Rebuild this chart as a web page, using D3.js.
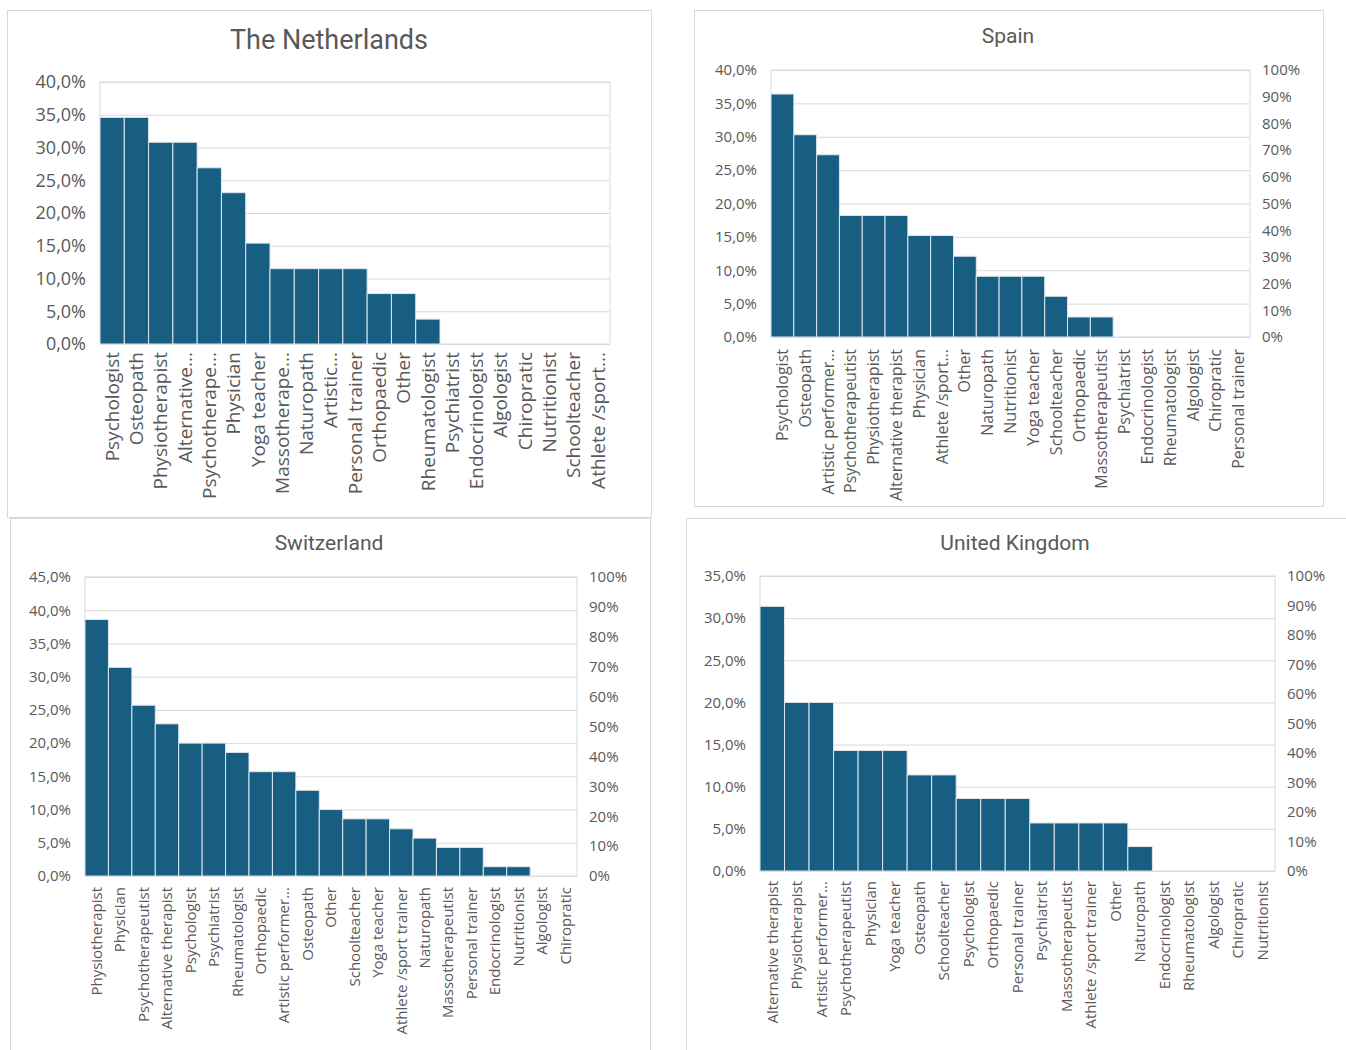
<!DOCTYPE html>
<html>
<head>
<meta charset="utf-8">
<title>Professions by country</title>
<script src="https://d3js.org/d3.v7.min.js"></script>
<style>
  body { margin: 0; background: #fff; }
  text { fill: #595959; }
</style>
</head>
<body>
<svg width="1346" height="1050"></svg>
<script>
// share of respondents (%) per profession, one set per country
const nlCats = ["Psychologist", "Osteopath", "Physiotherapist", "Alternative...", "Psychotherape...", "Physician",
  "Yoga teacher", "Massotherape...", "Naturopath", "Artistic...", "Personal trainer", "Orthopaedic", "Other",
  "Rheumatologist", "Psychiatrist", "Endocrinologist", "Algologist", "Chiropratic", "Nutritionist",
  "Schoolteacher", "Athlete /sport..."]
const nlVals = [34.6, 34.6, 30.8, 30.8, 26.9, 23.1, 15.4, 11.5, 11.5, 11.5, 11.5, 7.7, 7.7, 3.8, 0, 0, 0, 0, 0, 0, 0]

const esCats = ["Psychologist", "Osteopath", "Artistic performer...", "Psychotherapeutist", "Physiotherapist",
  "Alternative therapist", "Physician", "Athlete /sport...", "Other", "Naturopath", "Nutritionist", "Yoga teacher",
  "Schoolteacher", "Orthopaedic", "Massotherapeutist", "Psychiatrist", "Endocrinologist", "Rheumatologist",
  "Algologist", "Chiropratic", "Personal trainer"]
const esVals = [36.4, 30.3, 27.3, 18.2, 18.2, 18.2, 15.2, 15.2, 12.1, 9.1, 9.1, 9.1, 6.1, 3.0, 3.0, 0, 0, 0, 0, 0, 0]

const chCats = ["Physiotherapist", "Physician", "Psychotherapeutist", "Alternative therapist", "Psychologist",
  "Psychiatrist", "Rheumatologist", "Orthopaedic", "Artistic performer...", "Osteopath", "Other", "Schoolteacher",
  "Yoga teacher", "Athlete /sport trainer", "Naturopath", "Massotherapeutist", "Personal trainer",
  "Endocrinologist", "Nutritionist", "Algologist", "Chiropratic"]
const chVals = [38.6, 31.4, 25.7, 22.9, 20.0, 20.0, 18.6, 15.7, 15.7, 12.9, 10.0, 8.6, 8.6, 7.1, 5.7, 4.3, 4.3, 1.4, 1.4, 0, 0]

const ukCats = ["Alternative therapist", "Physiotherapist", "Artistic performer...", "Psychotherapeutist",
  "Physician", "Yoga teacher", "Osteopath", "Schoolteacher", "Psychologist", "Orthopaedic", "Personal trainer",
  "Psychiatrist", "Massotherapeutist", "Athlete /sport trainer", "Other", "Naturopath", "Endocrinologist",
  "Rheumatologist", "Algologist", "Chiropratic", "Nutritionist"]
const ukVals = [31.4, 20.0, 20.0, 14.3, 14.3, 14.3, 11.4, 11.4, 8.6, 8.6, 8.6, 5.7, 5.7, 5.7, 5.7, 2.9, 0, 0, 0, 0, 0]

// left axis maximum per panel (ticks every 5%)
const nlMax = 40, esMax = 40, chMax = 45, ukMax = 35
const rightTicks = [0, 0.1, 0.2, 0.3, 0.4, 0.5, 0.6, 0.7, 0.8, 0.9, 1]

const barColor = "#175e82"
const gridColor = "#d9d9d9"

const panels = [
  { title: "The Netherlands", cats: nlCats, vals: nlVals, yMax: nlMax, right: false,
    box: [7, 10, 651, 517], plot: [100, 82, 610, 344], titleX: 329, titleY: 49, titleSize: 27,
    tickSize: 18, catSize: 19, catGap: 8 },
  { title: "Spain", cats: esCats, vals: esVals, yMax: esMax, right: true,
    box: [694, 10, 1323, 506], plot: [771, 70, 1250, 337], titleX: 1008, titleY: 43, titleSize: 21,
    tickSize: 15, catSize: 16, catGap: 12 },
  { title: "Switzerland", cats: chCats, vals: chVals, yMax: chMax, right: true,
    box: [10, 518, 650, 1070], plot: [85, 577, 577, 876], titleX: 329, titleY: 550, titleSize: 21,
    tickSize: 15, catSize: 15, catGap: 11 },
  { title: "United Kingdom", cats: ukCats, vals: ukVals, yMax: ukMax, right: true,
    box: [686, 518, 1360, 1070], plot: [760, 576, 1275, 871], titleX: 1015, titleY: 550, titleSize: 21,
    tickSize: 15, catSize: 15, catGap: 10 }
]

const svg = d3.select("svg")
const pctFmt = d => d.toFixed(1).replace(".", ",") + "%"

panels.forEach(p => {
  const [bx0, by0, bx1, by1] = p.box
  const [x0, y0, x1, y1] = p.plot
  const w = x1 - x0, h = y1 - y0

  // chart frame
  svg.append("rect")
    .attr("x", bx0 + 0.5).attr("y", by0 + 0.5)
    .attr("width", bx1 - bx0).attr("height", by1 - by0)
    .attr("fill", "#fff").attr("stroke", gridColor)

  svg.append("text")
    .attr("x", p.titleX)
    .attr("y", p.titleY)
    .attr("text-anchor", "middle")
    .style("font-family", "Roboto, 'Noto Sans', sans-serif")
    .style("font-size", p.titleSize + "px")
    .text(p.title)

  const g = svg.append("g").attr("transform", `translate(${x0},${y0})`)

  const xScale = d3.scaleBand().domain(p.cats).range([0, w]).padding(0)
  const yScale = d3.scaleLinear().domain([0, p.yMax]).range([h, 0])

  const yTicks = d3.range(0, p.yMax + 0.01, 5)
  const yAxis = d3.axisLeft(yScale).tickValues(yTicks).tickFormat(pctFmt)
    .tickSize(-w).tickPadding(14)
  const ya = g.append("g").call(yAxis)
  ya.select(".domain").remove()
  ya.selectAll("line").attr("stroke", gridColor)
  ya.selectAll("text")
    .style("font-family", "'Open Sans', sans-serif")
    .style("font-size", p.tickSize + "px")
    .attr("fill", "#595959")

  // plot area border
  g.append("rect")
    .attr("x", 0).attr("y", 0).attr("width", w).attr("height", h)
    .attr("fill", "none").attr("stroke", gridColor)

  if (p.right) {
    const rScale = d3.scaleLinear().domain([0, 1]).range([h, 0])
    const ra = g.append("g").attr("transform", `translate(${w},0)`)
      .call(d3.axisRight(rScale).tickValues(rightTicks).tickFormat(d3.format(".0%")).tickSize(0).tickPadding(12))
    ra.select(".domain").remove()
    ra.selectAll("text")
      .style("font-family", "'Open Sans', sans-serif")
      .style("font-size", p.tickSize + "px")
      .attr("fill", "#595959")
  }

  g.selectAll("rect.bar")
    .data(p.vals)
    .enter()
    .append("rect")
    .attr("class", "bar")
    .attr("x", (d, i) => xScale(p.cats[i]))
    .attr("y", d => yScale(d))
    .attr("width", xScale.bandwidth())
    .attr("height", d => h - yScale(d))
    .attr("fill", barColor)
    .attr("stroke", "#dce7ee")
    .attr("stroke-width", 1)
    .style("display", d => d > 0 ? null : "none")

  // category labels, rotated
  g.selectAll("text.cat")
    .data(p.cats)
    .enter()
    .append("text")
    .attr("class", "cat")
    .attr("transform", d => `translate(${xScale(d) + xScale.bandwidth() / 2},${h + p.catGap}) rotate(-90)`)
    .attr("dy", "0.35em")
    .attr("text-anchor", "end")
    .style("font-family", "'Open Sans', sans-serif")
    .style("font-size", p.catSize + "px")
    .text(d => d)
})
</script>
</body>
</html>
